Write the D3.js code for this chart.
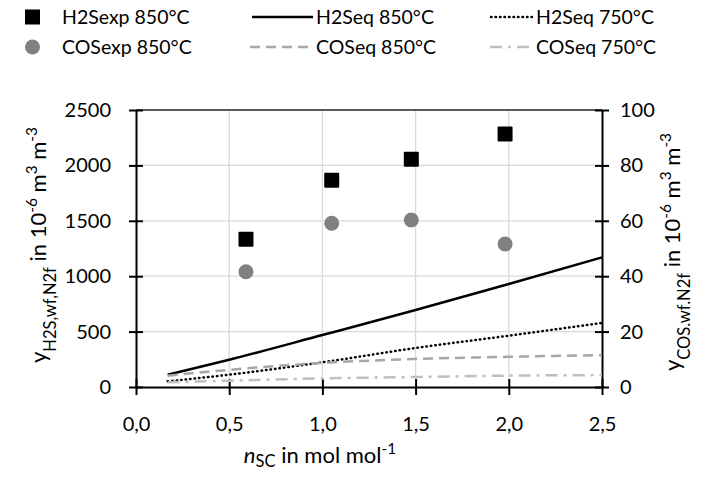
<!DOCTYPE html>
<html><head><meta charset="utf-8">
<script src="https://cdn.jsdelivr.net/npm/d3@7"></script>
<style>body{margin:0;background:#fff}svg{display:block;font-family:Lato,"Liberation Sans",sans-serif}</style>
</head><body><svg id="c" width="705" height="477"></svg>
<script>
const xTicks = [0, 0.5, 1.0, 1.5, 2.0, 2.5];
const yLeftTicks = [0, 500, 1000, 1500, 2000, 2500];
const yRightTicks = [0, 20, 40, 60, 80, 100];
const expX = [0.59, 1.05, 1.477, 1.98];
const h2sExp = [1333, 1865, 2055, 2283];
const cosExp = [41.6, 59.1, 60.3, 51.6];
const eqX = [0.17, 0.5, 1.0, 1.5, 2.0, 2.5];
const h2sEq850 = [111, 246, 469, 695, 930, 1170];
const h2sEq750 = [51, 111, 223, 352, 463, 578];
const cosEq850 = [4.1, 6.2, 8.7, 10.1, 10.9, 11.5];
const cosEq750 = [1.7, 2.3, 3.1, 3.6, 4.1, 4.3];

const svg = d3.select("#c");
const L = 136, R = 602, T = 110, B = 387;
const x = d3.scaleLinear().domain([0, 2.5]).range([L, R]);
const yL = d3.scaleLinear().domain([0, 2500]).range([B, T]);
const yR = d3.scaleLinear().domain([0, 100]).range([B, T]);
const fmtX = d => d3.format(".1f")(d).replace(".", ",");

// grid
const g = svg.append("g");
g.selectAll(".vg").data(xTicks.slice(1, -1)).join("line")
  .attr("x1", d => x(d)).attr("x2", d => x(d)).attr("y1", T).attr("y2", B)
  .attr("stroke", "#d9d9d9").attr("stroke-width", 1.3);
g.selectAll(".hg").data(yLeftTicks.slice(1)).join("line")
  .attr("x1", L).attr("x2", R).attr("y1", d => yL(d)).attr("y2", d => yL(d))
  .attr("stroke", d => d === 2500 ? "#222" : "#d9d9d9").attr("stroke-width", 1.3);

// axes
const ax1 = svg.append("g").attr("transform", `translate(${L},0)`).call(d3.axisLeft(yL).tickValues(yLeftTicks).tickFormat(d3.format("d")).tickSizeInner(7).tickSizeOuter(0).tickPadding(18));
const ax2 = svg.append("g").attr("transform", `translate(${R},0)`).call(d3.axisRight(yR).tickValues(yRightTicks).tickFormat(d3.format("d")).tickSizeInner(7).tickSizeOuter(0).tickPadding(11));
const ax3 = svg.append("g").attr("transform", `translate(0,${B})`).call(d3.axisBottom(x).tickValues(xTicks).tickFormat(fmtX).tickSizeInner(8).tickSizeOuter(0).tickPadding(22));
[ax1, ax2, ax3].forEach(a => {
  a.select(".domain").attr("stroke", "#000").attr("stroke-width", 2);
  a.selectAll(".tick line").attr("stroke", "#000").attr("stroke-width", 2);
  a.selectAll(".tick text").attr("font-size", 20).attr("fill", "#000").attr("font-family", "Lato, 'Liberation Sans', sans-serif");
});
ax1.selectAll(".tick line").attr("x1", 7);
ax2.selectAll(".tick line").attr("x1", -7);
ax3.selectAll(".tick line").attr("y1", -8);

// lines
const mk = (arr, ys) => eqX.map((v, i) => [x(v), ys(arr[i])]);
const line = d3.line().curve(d3.curveMonotoneX);
const series = [
  {d: mk(h2sEq850, yL), c: "#000", dash: null, cap: "butt"},
  {d: mk(h2sEq750, yL), c: "#000", dash: "0.5 4", cap: "round"},
  {d: mk(cosEq850, yR), c: "#a6a6a6", dash: "10 6", cap: "butt"},
  {d: mk(cosEq750, yR), c: "#bfbfbf", dash: "12 6 3 6", cap: "butt"}
];
series.forEach(s => {
  svg.append("path").attr("d", line(s.d)).attr("fill", "none").attr("stroke", s.c)
    .attr("stroke-width", 2.5).attr("stroke-dasharray", s.dash).attr("stroke-linecap", s.cap);
});

// markers
svg.selectAll(".sq").data(expX).join("rect")
  .attr("x", (d, i) => x(d) - 7.5).attr("y", (d, i) => yL(h2sExp[i]) - 7.5)
  .attr("width", 15).attr("height", 15).attr("rx", 1).attr("fill", "#000");
svg.selectAll(".ci").data(expX).join("circle")
  .attr("cx", d => x(d)).attr("cy", (d, i) => yR(cosExp[i])).attr("r", 7.5).attr("fill", "#808080");

// legend
const lg = svg.append("g").attr("font-size", 19.5);
const r1 = 17, r2 = 47;
lg.append("rect").attr("x", 25).attr("y", r1 - 7.5).attr("width", 15).attr("height", 15).attr("fill", "#000");
lg.append("circle").attr("cx", 32.5).attr("cy", r2).attr("r", 7.5).attr("fill", "#808080");
const legLines = [
  {x1: 252, x2: 313, y: r1, c: "#000", dash: null, cap: "butt"},
  {x1: 491, x2: 532, y: r1, c: "#000", dash: "0.5 4", cap: "round"},
  {x1: 250, x2: 314, y: r2, c: "#a6a6a6", dash: "10 6", cap: "butt"},
  {x1: 490, x2: 534, y: r2, c: "#bfbfbf", dash: "12 6 3 6", cap: "butt"}
];
legLines.forEach(l => lg.append("line").attr("x1", l.x1).attr("x2", l.x2).attr("y1", l.y).attr("y2", l.y)
  .attr("stroke", l.c).attr("stroke-width", 2.5).attr("stroke-dasharray", l.dash).attr("stroke-linecap", l.cap));
const legText = [
  {t: "H2Sexp 850°C", x: 62, y: r1}, {t: "H2Seq 850°C", x: 316, y: r1}, {t: "H2Seq 750°C", x: 536, y: r1},
  {t: "COSexp 850°C", x: 62, y: r2}, {t: "COSeq 850°C", x: 316, y: r2}, {t: "COSeq 750°C", x: 536, y: r2}
];
lg.selectAll("text").data(legText).join("text").attr("x", d => d.x).attr("y", d => d.y)
  .attr("dy", "0.35em").text(d => d.t);

// axis titles
function richLabel(sel, parts) {
  parts.forEach(p => {
    const ts = sel.append("tspan").text(p.t);
    if (p.sub) ts.attr("baseline-shift", p.shift || "sub").attr("font-size", "75%");
    if (p.sup) ts.attr("baseline-shift", "super").attr("font-size", "70%");
    if (p.it) ts.attr("font-style", "italic");
  });
}
const tl = svg.append("text").attr("font-size", 22).attr("text-anchor", "middle")
  .attr("transform", `translate(46,245) rotate(-90)`);
richLabel(tl, [{t: "y"}, {t: "H2S,wf,N2f", sub: true}, {t: " in 10"}, {t: "-6", sup: true}, {t: " m"}, {t: "3", sup: true}, {t: " m"}, {t: "-3", sup: true}]);
const tr = svg.append("text").attr("font-size", 22).attr("text-anchor", "middle")
  .attr("transform", `translate(680,252) rotate(-90)`);
richLabel(tr, [{t: "y"}, {t: "COS.wf.N2f", sub: true}, {t: " in 10"}, {t: "-6", sup: true}, {t: " m"}, {t: "3", sup: true}, {t: " m"}, {t: "-3", sup: true}]);
const tx = svg.append("text").attr("font-size", 22).attr("text-anchor", "middle")
  .attr("x", 320).attr("y", 463);
richLabel(tx, [{t: "n", it: true}, {t: "SC", sub: true, shift: "-4px"}, {t: " in mol mol"}, {t: "-1", sup: true}]);
</script></body></html>
